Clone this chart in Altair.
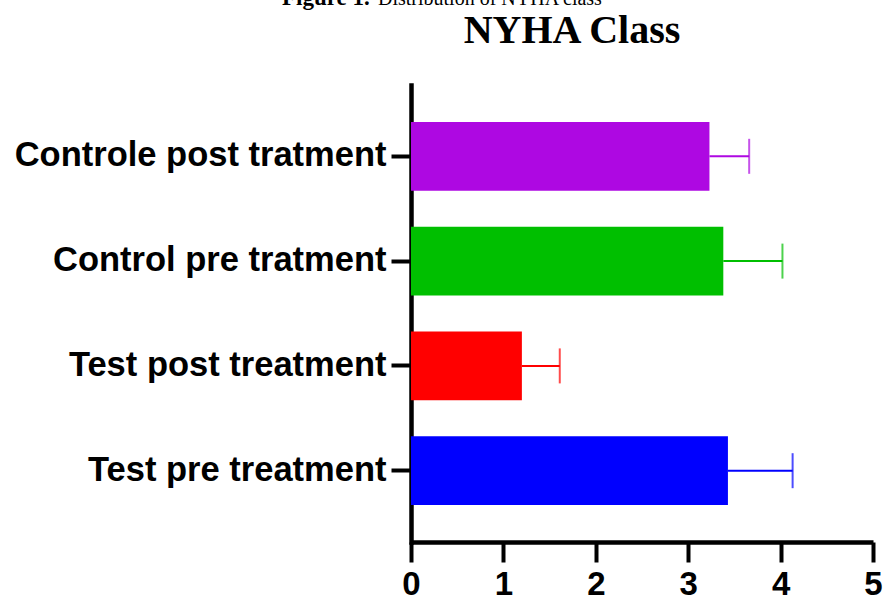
import altair as alt
import pandas as pd

# NYHA class per group: mean score and standard deviation
groups = [
    "Controle post tratment",
    "Control pre tratment",
    "Test post treatment",
    "Test pre treatment",
]
means = [3.23, 3.38, 1.20, 3.43]
sds = [0.43, 0.64, 0.41, 0.70]
colors = ["#AE08E2", "#00BF00", "#FF0000", "#0000FF"]
x_ticks = [0, 1, 2, 3, 4, 5]

df = pd.DataFrame({"group": groups, "mean": means, "sd": sds})
df["upper"] = df["mean"] + df["sd"]

y_enc = alt.Y(
    "group:N",
    sort=groups,
    title=None,
    scale=alt.Scale(paddingInner=0.343, paddingOuter=0.352),
    axis=alt.Axis(
        labelFont="Liberation Sans",
        labelFontWeight="bold",
        labelFontSize=34.5,
        labelColor="black",
        labelPadding=5,
        labelLimit=500,
        domainColor="black",
        domainWidth=4.5,
        tickColor="black",
        tickWidth=4,
        tickSize=20,
        domainCap="square",
    ),
)
color_enc = alt.Color(
    "group:N", sort=groups, scale=alt.Scale(domain=groups, range=colors), legend=None
)

x_scale = alt.Scale(domain=[0, 5], nice=False)
x_axis = alt.Axis(
    values=x_ticks,
    format="d",
    grid=False,
    labelFont="Liberation Sans",
    labelFontWeight="bold",
    labelFontSize=33,
    labelColor="black",
    labelPadding=6,
    labelFlush=False,
    domainColor="black",
    domainWidth=4.5,
    tickColor="black",
    tickWidth=4,
    tickSize=20,
    title=None,
)

base = alt.Chart(df)

bars = base.mark_bar().encode(
    x=alt.X("mean:Q", scale=x_scale, axis=x_axis),
    y=y_enc,
    color=color_enc,
)

# one-sided error bar: whisker from the bar end to mean + SD, with a cap
whisker = base.mark_rule(strokeWidth=2).encode(
    x="mean:Q", x2="upper:Q", y=alt.Y("group:N", sort=groups), color=color_enc
)
cap = base.mark_tick(orient="vertical", size=35, thickness=2).encode(
    x="upper:Q", y=alt.Y("group:N", sort=groups), color=color_enc
)


def label(text, x, y, size, weight="normal", align="left"):
    return (
        alt.Chart(pd.DataFrame({"t": [text]}))
        .mark_text(
            font="Liberation Serif", fontWeight=weight, fontSize=size, align=align,
            baseline="alphabetic", color="black",
        )
        .encode(text="t:N", x=alt.value(x), y=alt.value(y))
    )


# figure caption (partly above the page top) and the chart heading
caption_bold = label("Figure 1.", -129, -80, 23, weight="bold")
caption_rest = label("Distribution of NYHA class", -33, -80, 20)
heading = label("NYHA Class", 161, -42, 40, weight="bold", align="center")

chart = (
    alt.layer(bars, whisker, cap, caption_bold, caption_rest, heading)
    .properties(
        width=462,
        height=457,
        background="white",
        autosize=alt.AutoSizeParams(type="none"),
        padding={"left": 411, "top": 85, "right": 10, "bottom": 59},
    )
    .configure_view(stroke="transparent", strokeWidth=0)
)

chart.save("out.html", embed_options={"renderer": "svg", "actions": False})
